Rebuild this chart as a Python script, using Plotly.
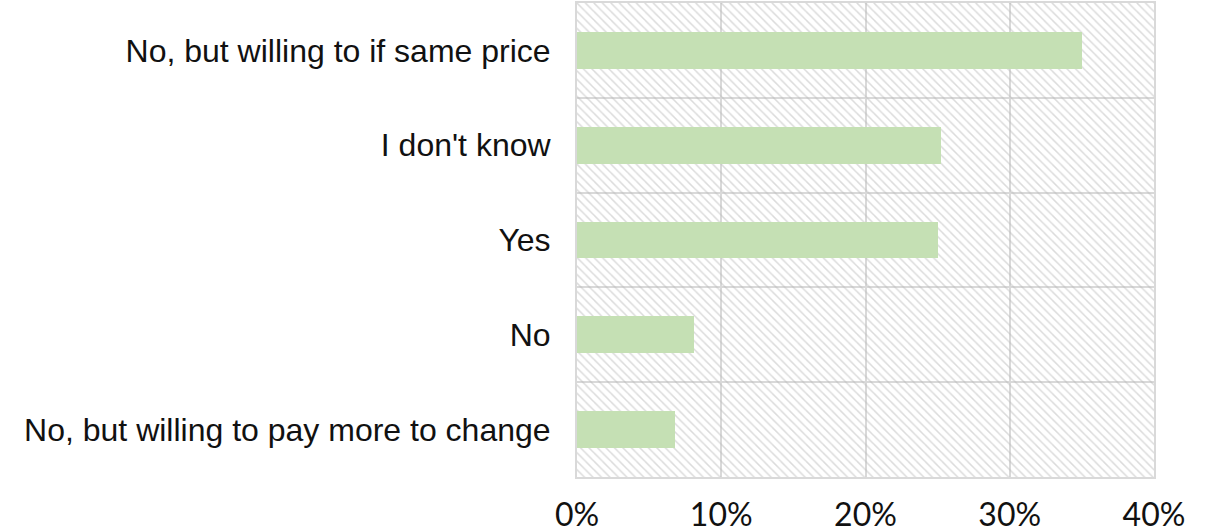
import plotly.graph_objects as go

# Survey answers, listed top to bottom
categories = [
    "No, but willing to if same price",
    "I don't know",
    "Yes",
    "No",
    "No, but willing to pay more to change",
]
shares = [0.35, 0.252, 0.25, 0.081, 0.068]

x_ticks = [0, 0.1, 0.2, 0.3, 0.4]
x_tick_labels = ["0%", "10%", "20%", "30%", "40%"]

n = len(categories)
positions = list(range(n))
x_max = x_ticks[-1]

GRID = "#d9d9d9"
BAR = "#c5e0b4"

fig = go.Figure()

# hatched plot-area fill, one full-width band per category row
fig.add_trace(go.Bar(
    x=[x_max] * n,
    y=positions,
    orientation="h",
    width=1,
    marker=dict(
        color="rgba(0,0,0,0)",
        line=dict(width=0),
        pattern=dict(shape="\\", size=6, solidity=0.25,
                     fgcolor="#b8b8b8", bgcolor="rgba(0,0,0,0)"),
    ),
    hoverinfo="skip",
    showlegend=False,
))

fig.add_trace(go.Bar(
    x=shares,
    y=positions,
    orientation="h",
    width=0.39,
    marker=dict(color=BAR, line=dict(width=0)),
    showlegend=False,
))

fig.update_layout(
    width=1215,
    height=532,
    margin=dict(l=577, r=61, t=3, b=55),
    paper_bgcolor="white",
    plot_bgcolor="white",
    barmode="overlay",
    bargap=0,
    font=dict(family="Liberation Sans, Arial, sans-serif", color="black"),
)

fig.update_xaxes(
    range=[0, x_max],
    tickvals=x_ticks,
    ticktext=x_tick_labels,
    tickfont=dict(family="Lato, Open Sans, sans-serif", size=32, color="#111111"),
    ticks="",
    ticklabelstandoff=9,
    automargin=False,
    showgrid=True,
    gridcolor=GRID,
    gridwidth=2,
    zeroline=False,
    showline=True,
    linecolor=GRID,
    linewidth=2,
    mirror=True,
)

fig.update_yaxes(
    range=[n - 0.5, -0.5],
    tickvals=positions,
    ticktext=categories,
    tickfont=dict(family="Liberation Sans, Arial, sans-serif", size=32, color="#111111"),
    ticks="",
    ticklabelstandoff=18,
    automargin=False,
    showgrid=False,
    zeroline=False,
    showline=True,
    linecolor=GRID,
    linewidth=2,
    mirror=True,
    minor=dict(tickvals=[p + 0.5 for p in positions[:-1]], showgrid=True,
               gridcolor=GRID, gridwidth=2, ticks=""),
)

fig.write_html("out.html")
